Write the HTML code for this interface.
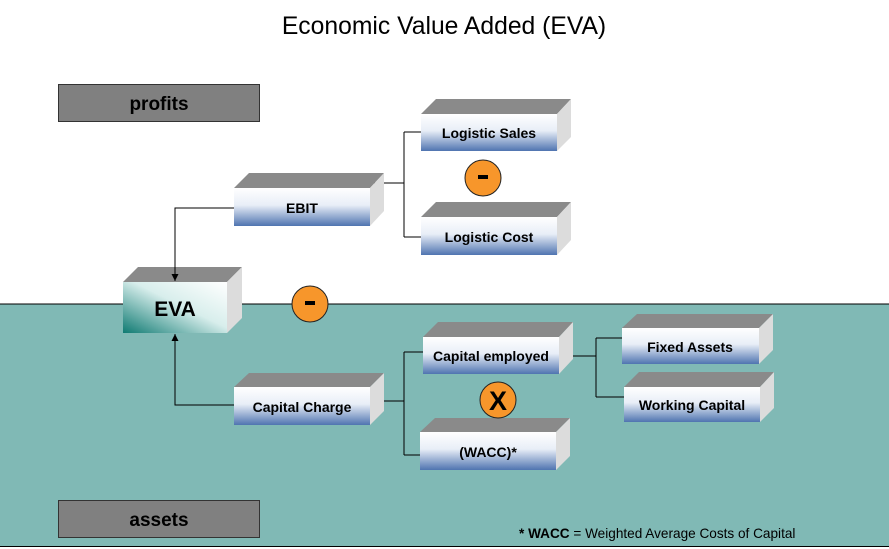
<!DOCTYPE html>
<html><head><style>
body{margin:0;background:#fff}
svg{display:block}
text{font-family:"Liberation Sans",sans-serif}
</style></head><body>
<svg width="889" height="549" viewBox="0 0 889 549" xmlns="http://www.w3.org/2000/svg">
<defs>
<linearGradient id="bg" x1="0" y1="0" x2="0" y2="1">
<stop offset="0" stop-color="#ffffff"/><stop offset="0.45" stop-color="#e8eef7"/><stop offset="1" stop-color="#4f74b0"/>
</linearGradient>
<linearGradient id="eg" x1="1" y1="0" x2="0" y2="1">
<stop offset="0" stop-color="#ffffff"/><stop offset="0.45" stop-color="#d8eeec"/><stop offset="1" stop-color="#0f7a72"/>
</linearGradient>
<marker id="ar" viewBox="0 0 10 10" refX="10" refY="5" markerWidth="7" markerHeight="7" orient="auto"><path d="M0,0L10,5L0,10z" fill="#000"/></marker>
</defs>
<rect x="0" y="304" width="889" height="242" fill="#80b9b5"/>
<line x1="0" y1="304" x2="889" y2="304" stroke="#000" stroke-width="1"/>
<line x1="0" y1="546.5" x2="889" y2="546.5" stroke="#000" stroke-width="1"/>
<text x="444" y="34" font-size="24.7" text-anchor="middle">Economic Value Added (EVA)</text>

<rect x="58.5" y="84.5" width="201" height="37" fill="#808080" stroke="#333"/>
<text x="159" y="110" font-size="19" font-weight="bold" text-anchor="middle">profits</text>
<rect x="58.5" y="500.5" width="201" height="37" fill="#808080" stroke="#333"/>
<text x="159" y="526" font-size="19" font-weight="bold" text-anchor="middle">assets</text>

<g stroke="#000" stroke-width="1" fill="none">
<path d="M370,183H404M404,132V237M404,132H421M404,237H421"/>
<path d="M370,401H404M404,352V455M404,352H423M404,455H420"/>
<path d="M559,356H596M596,338V397M596,338H622M596,397H624"/>
</g>

<g>
<polygon points="421,114 436,99 571,99 557,114" fill="#8a8a8a"/>
<polygon points="557,114 571,99 571,137 557,151" fill="#dcdcdc"/>
<rect x="421" y="114" width="136" height="37" fill="url(#bg)"/>
<text x="489" y="138" font-size="14" font-weight="bold" text-anchor="middle">Logistic Sales</text>
</g>
<g>
<polygon points="421,217 436,202 571,202 557,217" fill="#8a8a8a"/>
<polygon points="557,217 571,202 571,240 557,255" fill="#dcdcdc"/>
<rect x="421" y="217" width="136" height="38" fill="url(#bg)"/>
<text x="489" y="242" font-size="14" font-weight="bold" text-anchor="middle">Logistic Cost</text>
</g>
<g>
<polygon points="234,188 249,173 384,173 370,188" fill="#8a8a8a"/>
<polygon points="370,188 384,173 384,211 370,226" fill="#dcdcdc"/>
<rect x="234" y="188" width="136" height="38" fill="url(#bg)"/>
<text x="302" y="213" font-size="14" font-weight="bold" text-anchor="middle">EBIT</text>
</g>
<g>
<polygon points="123,282 138,267 242,267 227,282" fill="#8a8a8a"/>
<polygon points="227,282 242,267 242,318 227,333" fill="#dcdcdc"/>
<rect x="123" y="282" width="104" height="51" fill="url(#eg)"/>
<text x="175" y="316" font-size="21" font-weight="bold" text-anchor="middle">EVA</text>
</g>
<g>
<polygon points="423,337 438,322 573,322 559,337" fill="#8a8a8a"/>
<polygon points="559,337 573,322 573,359 559,374" fill="#dcdcdc"/>
<rect x="423" y="337" width="136" height="37" fill="url(#bg)"/>
<text x="491" y="361" font-size="14" font-weight="bold" text-anchor="middle">Capital employed</text>
</g>
<g>
<polygon points="420,432 435,418 570,418 556,432" fill="#8a8a8a"/>
<polygon points="556,432 570,418 570,456 556,470" fill="#dcdcdc"/>
<rect x="420" y="432" width="136" height="38" fill="url(#bg)"/>
<text x="488" y="457" font-size="14" font-weight="bold" text-anchor="middle">(WACC)*</text>
</g>
<g>
<polygon points="234,387 249,373 384,373 370,387" fill="#8a8a8a"/>
<polygon points="370,387 384,373 384,411 370,425" fill="#dcdcdc"/>
<rect x="234" y="387" width="136" height="38" fill="url(#bg)"/>
<text x="302" y="412" font-size="14" font-weight="bold" text-anchor="middle">Capital Charge</text>
</g>
<g>
<polygon points="622,328 637,314 773,314 759,328" fill="#8a8a8a"/>
<polygon points="759,328 773,314 773,350 759,364" fill="#dcdcdc"/>
<rect x="622" y="328" width="137" height="36" fill="url(#bg)"/>
<text x="690" y="352" font-size="14" font-weight="bold" text-anchor="middle">Fixed Assets</text>
</g>
<g>
<polygon points="624,387 639,372 774,372 760,387" fill="#8a8a8a"/>
<polygon points="760,387 774,372 774,408 760,422" fill="#dcdcdc"/>
<rect x="624" y="387" width="136" height="35" fill="url(#bg)"/>
<text x="692" y="410" font-size="14" font-weight="bold" text-anchor="middle">Working Capital</text>
</g>

<g stroke="#000" stroke-width="1" fill="none">
<path d="M234,208H175V281" marker-end="url(#ar)"/>
<path d="M234,405H175V334" marker-end="url(#ar)"/>
</g>

<circle cx="483" cy="178" r="18" fill="#f7962b" stroke="#222"/>
<rect x="478" y="175" width="10" height="4" fill="#000"/>
<circle cx="310" cy="304" r="18" fill="#f7962b" stroke="#222"/>
<rect x="305" y="301" width="10" height="4" fill="#000"/>
<circle cx="498" cy="400" r="18" fill="#f7962b" stroke="#222"/>
<text x="498" y="410" font-size="27" font-weight="bold" text-anchor="middle">X</text>

<text x="519" y="538" font-size="13.6"><tspan font-weight="bold">* WACC</tspan> = Weighted Average Costs of Capital</text>
</svg>
</body></html>
